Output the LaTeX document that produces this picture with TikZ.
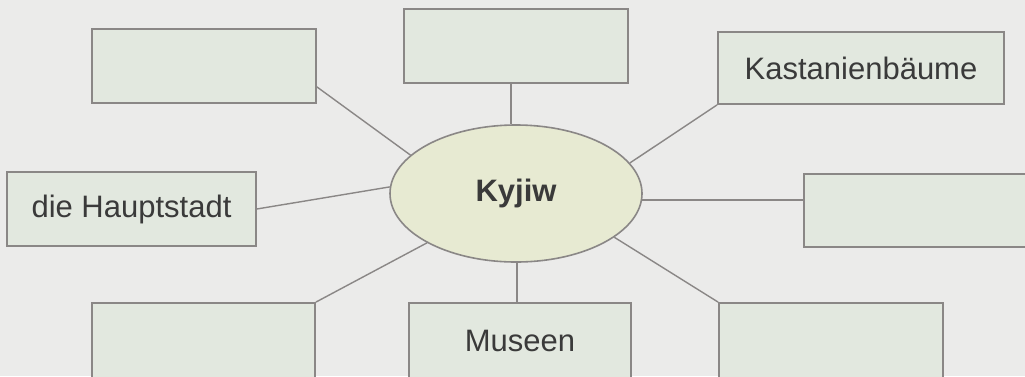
\documentclass[tikz,border=0pt]{standalone}
\usepackage{fontspec}
\setmainfont{Liberation Sans}
\usetikzlibrary{shapes.geometric}
\definecolor{bgcol}{HTML}{EBEBEA}
\definecolor{boxfill}{HTML}{E2E8DF}
\definecolor{ellfill}{HTML}{E7EAD2}
\definecolor{edgecol}{HTML}{8A8786}
\definecolor{txtcol}{HTML}{3A3A3A}
\begin{document}
\begin{tikzpicture}[x=1pt,y=-1pt,
  mapbox/.style={rectangle, draw=edgecol, fill=boxfill, line width=1.8pt,
    inner sep=0pt, text=txtcol, font=\fontsize{31}{36}\selectfont},
  hub/.style={ellipse, draw=edgecol, fill=ellfill, line width=1.6pt,
    inner sep=0pt, minimum width=252pt, minimum height=137pt,
    text=txtcol, font=\bfseries\fontsize{31}{36}\selectfont},
  link/.style={draw=edgecol, line width=1.4pt}]
\useasboundingbox (0,0) rectangle (1025,376);
\clip (0,0) rectangle (1025,376);
\fill[bgcol] (0,0) rectangle (1025,376);

\node[hub] (k) at (516,193.5) {Kyjiw};

\node[mapbox, minimum width=224pt, minimum height=74pt] (tl) at (204,66) {};
\node[mapbox, minimum width=224pt, minimum height=74pt] (tc) at (516,46) {};
\node[mapbox, minimum width=286pt, minimum height=72pt] (tr) at (861,68) {Kastanienbäume};
\node[mapbox, minimum width=249pt, minimum height=74pt] (ml) at (131.5,209) {die Hauptstadt};
\node[mapbox, minimum width=240pt, minimum height=73pt] (mr) at (924,210.5) {};
\node[mapbox, minimum width=223pt, minimum height=75pt] (bl) at (203.5,340.5) {};
\node[mapbox, minimum width=222pt, minimum height=75pt] (mu) at (520,340.5) {Museen};
\node[mapbox, minimum width=224pt, minimum height=75pt] (br) at (831,340.5) {};

\draw[link] ([yshift=17pt]tl.south east) -- (k.160);
\draw[link] ([xshift=-5pt]tc.south) -- ([xshift=-5pt]k.north);
\draw[link] (k.15) -- (tr.south west);
\draw[link] (ml.east) -- (k.177);
\draw[link] (k.-3.4) -- (k.-3.4 -| mr.west);
\draw[link] (k.-151) -- (bl.north east);
\draw[link] ([xshift=1pt]k.south) -- ([xshift=1pt]k.south |- mu.north);
\draw[link] (k.-24) -- (br.north west);
\end{tikzpicture}
\end{document}
